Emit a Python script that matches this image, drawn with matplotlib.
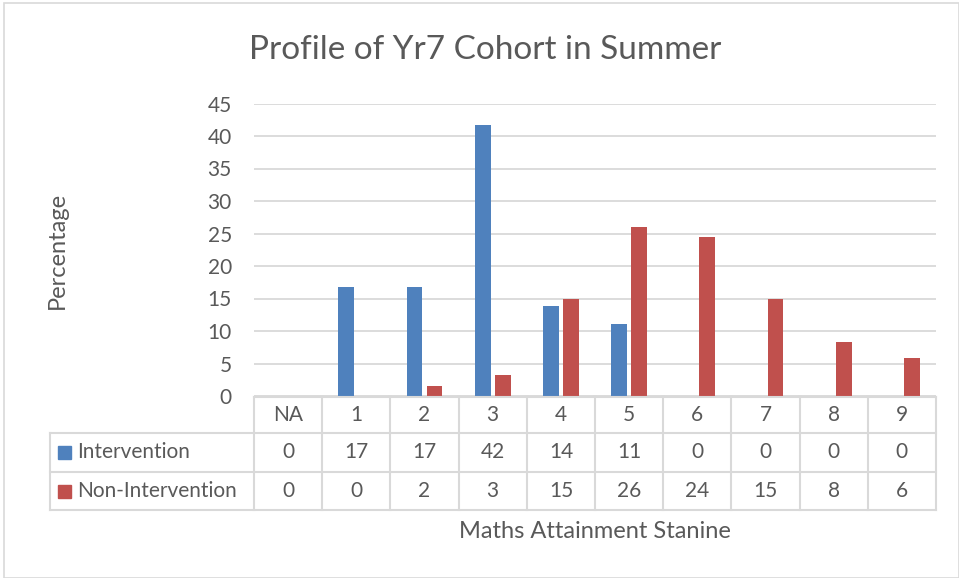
import matplotlib
matplotlib.use("Agg")
import matplotlib.pyplot as plt
from matplotlib.patches import Rectangle
import matplotlib.transforms as mtransforms

categories = ["NA", "1", "2", "3", "4", "5", "6", "7", "8", "9"]
intervention = [0, 16.7, 16.7, 41.7, 13.9, 11.1, 0, 0, 0, 0]
non_intervention = [0, 0, 1.6, 3.3, 15.0, 26.0, 24.4, 15.0, 8.3, 5.8]
series_names = ["Intervention", "Non-Intervention"]
colors = ["#4F81BD", "#C0504D"]
title = "Profile of Yr7 Cohort in Summer"
ylabel = "Percentage"
xlabel = "Maths Attainment Stanine"
yticks = [0, 5, 10, 15, 20, 25, 30, 35, 40, 45]

plt.rcParams['font.family'] = ['Lato', 'DejaVu Sans']
txt = "#595959"
grid = "#D9D9D9"

W, H = 959, 578
fig = plt.figure(figsize=(W / 100, H / 100), dpi=100)
fig.patch.set_facecolor("white")
# figure border
fig.add_artist(Rectangle((4 / W, 0), 1 - 4 / W - 0.0005, 1 - 3 / H, transform=fig.transFigure,
                         fill=False, edgecolor=grid, lw=1.2))

left, right = 254 / W, 936 / W
bottom, top = 1 - 396 / H, 1 - 103.5 / H
ax = fig.add_axes([left, bottom, right - left, top - bottom])
n = len(categories)
xs = list(range(n))
off = 0.147
bw = 0.23
ax.bar([x - off for x in xs], intervention, width=bw, color=colors[0], zorder=3)
ax.bar([x + off for x in xs], non_intervention, width=bw, color=colors[1], zorder=3)
ax.set_xlim(-0.5, n - 0.5)
ax.set_ylim(0, 45)
ax.set_yticks(yticks)
ax.set_yticklabels([str(t) for t in yticks], color=txt, fontsize=15)
ax.tick_params(axis='y', length=0, pad=16)
ax.set_xticks([])
for s in ax.spines.values():
    s.set_visible(False)
ax.yaxis.grid(True, color=grid, lw=1.3, zorder=0)
ax.set_axisbelow(True)

ftrans = fig.transFigure
def fy(p):
    return 1 - p / H
y0, y1, y2, y3 = fy(397), fy(433), fy(472), fy(510)
lw = 1.5
fig.add_artist(plt.Line2D([left, right], [y0, y0], transform=ftrans, color=grid, lw=lw))
for yy in (y1, y2, y3):
    fig.add_artist(plt.Line2D([50 / W, right], [yy, yy], transform=ftrans, color=grid, lw=lw))
for i in range(n + 1):
    xv = left + (right - left) * i / n
    fig.add_artist(plt.Line2D([xv, xv], [y0, y3], transform=ftrans, color=grid, lw=lw))
fig.add_artist(plt.Line2D([50 / W, 50 / W], [y1, y3], transform=ftrans, color=grid, lw=lw))

fs = 15
for i, c in enumerate(categories):
    xc = left + (right - left) * (i + 0.5) / n
    fig.text(xc, (y0 + y1) / 2, c, ha='center', va='center', color=txt, fontsize=fs)
    fig.text(xc, (y1 + y2) / 2, str(round(intervention[i])), ha='center', va='center', color=txt, fontsize=fs)
    fig.text(xc, (y2 + y3) / 2, str(round(non_intervention[i])), ha='center', va='center', color=txt, fontsize=fs)
for j, (name, col) in enumerate(zip(series_names, colors)):
    ya, yb = (y1, y2) if j == 0 else (y2, y3)
    yc = (ya + yb) / 2
    fig.add_artist(Rectangle((58 / W, yc - 6.5 / H), 13 / W, 13 / H, transform=ftrans, color=col))
    fig.text(77 / W, yc, name, ha='left', va='center', color=txt, fontsize=fs)

fig.text(485 / W, fy(50), title, ha='center', va='center', color=txt, fontsize=24)
fig.text(57 / W, fy(250), ylabel, ha='center', va='center', rotation=90, color=txt, fontsize=17)
fig.text(595 / W, fy(532), xlabel, ha='center', va='center', color=txt, fontsize=17)

fig.savefig("out.png", dpi=100)
